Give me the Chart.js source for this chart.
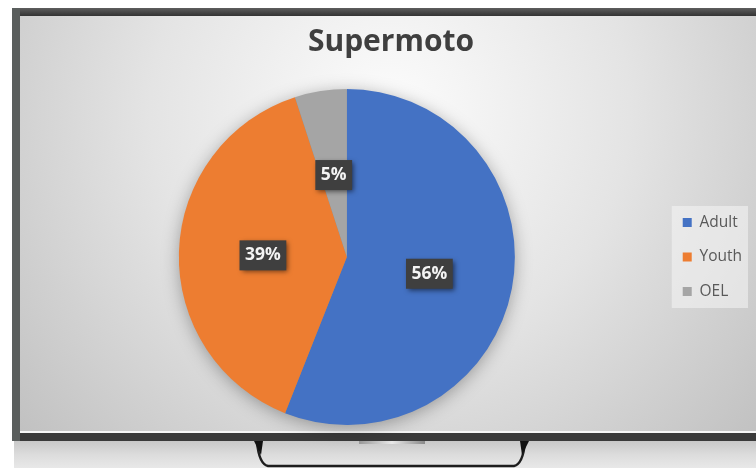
<!DOCTYPE html>
<html><head><meta charset="utf-8">
<script src="https://cdn.jsdelivr.net/npm/chart.js@4/dist/chart.umd.min.js"></script>
<style>html,body{margin:0;padding:0;background:#fff;overflow:hidden}canvas{display:block}</style>
</head><body>
<canvas id="c" width="756" height="468"></canvas>
<script>
const chartTitle = 'Supermoto';
const categories = ['Adult', 'Youth', 'OEL'];
const shares = [56, 39, 5];
const sliceColors = ['#4472C4', '#ED7D31', '#A5A5A5'];

const tvFrame = {
  id: 'tvFrame',
  beforeDraw(chart) {
    const ctx = chart.ctx;
    const W = chart.width, H = chart.height;
    ctx.save();
    ctx.fillStyle = '#ffffff';
    ctx.fillRect(0, 0, W, H);
    // soft shadow under the set
    let g = ctx.createLinearGradient(0, 441, 0, H);
    g.addColorStop(0, '#c8c8c8');
    g.addColorStop(0.5, '#dcdcdc');
    g.addColorStop(1, '#e8e8e8');
    ctx.fillStyle = g;
    ctx.fillRect(14, 441, W - 14, H - 441);
    // bezel
    ctx.fillStyle = '#4a4d4c';
    ctx.fillRect(12, 8, W - 12, 433);
    g = ctx.createLinearGradient(0, 8, 0, 16);
    g.addColorStop(0, '#5e5e5e');
    g.addColorStop(1, '#333333');
    ctx.fillStyle = g;
    ctx.fillRect(20, 8, W - 20, 8);
    ctx.fillStyle = '#5a5e5d';
    ctx.fillRect(12, 8, 8, 433);
    ctx.fillStyle = '#3a3a3a';
    ctx.fillRect(20, 433, W - 20, 8);
    // screen
    const rg = ctx.createRadialGradient(390, 110, 10, 390, 110, 520);
    rg.addColorStop(0, '#fbfbfb');
    rg.addColorStop(0.45, '#e4e4e4');
    rg.addColorStop(1, '#bdbdbd');
    ctx.fillStyle = rg;
    ctx.fillRect(20, 16, W - 20, 415);
    ctx.fillStyle = '#f6f6f6';
    ctx.fillRect(20, 431, W - 20, 2);
    // stand plate
    g = ctx.createLinearGradient(359, 0, 425, 0);
    g.addColorStop(0, '#9a9a9a');
    g.addColorStop(0.5, '#e8e8e8');
    g.addColorStop(1, '#8a8a8a');
    ctx.fillStyle = g;
    ctx.fillRect(359, 441, 66, 3);
    // stand legs
    ctx.strokeStyle = '#1e1e1e';
    ctx.lineWidth = 2.5;
    ctx.beginPath();
    ctx.moveTo(257, 442);
    ctx.quadraticCurveTo(259, 464, 268, 466);
    ctx.lineTo(514, 466);
    ctx.quadraticCurveTo(523, 464, 525, 442);
    ctx.stroke();
    ctx.fillStyle = '#111';
    ctx.beginPath(); ctx.moveTo(254, 441); ctx.lineTo(263, 441); ctx.lineTo(261, 455); ctx.closePath(); ctx.fill();
    ctx.beginPath(); ctx.moveTo(520, 441); ctx.lineTo(529, 441); ctx.lineTo(522, 455); ctx.closePath(); ctx.fill();
    // legend panel
    const lg = chart.legend;
    if (lg) {
      const ca = chart.chartArea;
      const cy = (ca.top + ca.bottom) / 2;
      ctx.fillStyle = 'rgba(245,245,245,0.55)';
      ctx.fillRect(lg.left + 8, cy - 51, lg.right - lg.left - 12, 102);
    }
    ctx.restore();
  }
};

const pieShadow = {
  id: 'pieShadow',
  beforeDatasetsDraw(chart) {
    const arc = chart.getDatasetMeta(0).data[0];
    if (!arc) return;
    const ctx = chart.ctx;
    ctx.save();
    ctx.shadowColor = 'rgba(0,0,0,0.35)';
    ctx.shadowBlur = 18;
    ctx.shadowOffsetY = 3;
    ctx.fillStyle = '#888';
    ctx.beginPath();
    ctx.arc(arc.x, arc.y, arc.outerRadius - 1, 0, Math.PI * 2);
    ctx.fill();
    ctx.restore();
  }
};

const sliceLabels = {
  id: 'sliceLabels',
  afterDatasetsDraw(chart) {
    const ctx = chart.ctx;
    const meta = chart.getDatasetMeta(0);
    const data = chart.data.datasets[0].data;
    const total = data.reduce((a, b) => a + b, 0);
    ctx.save();
    ctx.font = 'bold 17.5px "Open Sans", sans-serif';
    ctx.textAlign = 'center';
    ctx.textBaseline = 'middle';
    meta.data.forEach((arc, i) => {
      const p = arc.getCenterPoint();
      const txt = Math.round(data[i] / total * 100) + '%';
      const w = ctx.measureText(txt).width + 11;
      const h = 30;
      ctx.save();
      ctx.shadowColor = 'rgba(0,0,0,0.55)';
      ctx.shadowBlur = 5;
      ctx.shadowOffsetX = 2;
      ctx.shadowOffsetY = 2;
      ctx.fillStyle = '#3f3f3f';
      ctx.fillRect(p.x - w / 2, p.y - h / 2 + 1, w, h);
      ctx.restore();
      ctx.fillStyle = '#f4f4f4';
      ctx.fillText(txt, p.x, p.y + 1);
    });
    ctx.restore();
  }
};

new Chart(document.getElementById('c'), {
  type: 'pie',
  data: {
    labels: categories,
    datasets: [{
      data: shares,
      backgroundColor: sliceColors,
      borderWidth: 0
    }]
  },
  options: {
    responsive: false,
    animation: false,
    devicePixelRatio: 1,
    layout: { padding: { left: 30, right: 4, top: 16, bottom: 43 } },
    plugins: {
      title: {
        display: true,
        text: chartTitle,
        color: '#3f3f3f',
        font: { family: '"Open Sans", sans-serif', size: 30, weight: 'bold', lineHeight: 1.2 },
        padding: { top: 8, bottom: 29 }
      },
      legend: {
        display: true,
        position: 'right',
        align: 'center',
        fullSize: false,
        labels: {
          boxWidth: 9,
          boxHeight: 9,
          padding: 19,
          color: '#595959',
          font: { family: '"Open Sans", sans-serif', size: 15.5 }
        }
      },
      tooltip: { enabled: false }
    }
  },
  plugins: [tvFrame, pieShadow, sliceLabels]
});
</script>
</body></html>
